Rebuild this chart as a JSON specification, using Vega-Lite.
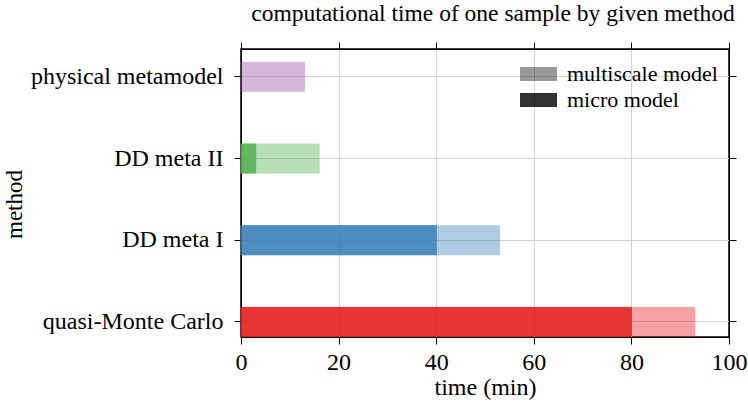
{
  "$schema": "https://vega.github.io/schema/vega-lite/v6.json",
  "autosize": "none",
  "width": 488,
  "height": 288,
  "padding": {"left": 241, "top": 49, "right": 19, "bottom": 66},
  "background": "white",
  "config": {
    "font": "Liberation Serif",
    "view": {"stroke": "black", "strokeWidth": 1.5},
    "axis": {
      "labelFont": "Liberation Serif",
      "titleFont": "Liberation Serif",
      "labelColor": "black",
      "titleColor": "black",
      "titleFontWeight": "normal",
      "domainColor": "black",
      "tickColor": "black",
      "tickSize": 7,
      "tickWidth": 1,
      "gridColor": "#d3d3d3",
      "gridWidth": 1,
      "labelLimit": 400
    },
    "legend": {
      "labelFont": "Liberation Serif",
      "labelColor": "black"
    },
    "title": {"font": "Liberation Serif", "fontWeight": "normal", "color": "black"}
  },
  "title": {"text": "computational time of one sample by given method", "fontSize": 23.5, "anchor": "middle", "offset": 16, "dx": 8},
  "data": {
    "values": [
      {"method": "physical metamodel", "model": "multiscale model", "time": 13},
      {"method": "DD meta II", "model": "multiscale model", "time": 16},
      {"method": "DD meta I", "model": "multiscale model", "time": 53},
      {"method": "quasi-Monte Carlo", "model": "multiscale model", "time": 93},
      {"method": "DD meta II", "model": "micro model", "time": 3},
      {"method": "DD meta I", "model": "micro model", "time": 40},
      {"method": "quasi-Monte Carlo", "model": "micro model", "time": 80}
    ]
  },
  "encoding": {
    "y": {
      "field": "method",
      "type": "nominal",
      "sort": ["physical metamodel", "DD meta II", "DD meta I", "quasi-Monte Carlo"],
      "scale": {"paddingInner": 0.645, "paddingOuter": 0.085, "align": 0.96}
    },
    "x": {
      "field": "time",
      "type": "quantitative",
      "stack": null,
      "scale": {"domain": [0, 100], "nice": false}
    },
    "color": {
      "field": "method",
      "type": "nominal",
      "scale": {
        "domain": ["physical metamodel", "DD meta II", "DD meta I", "quasi-Monte Carlo"],
        "range": ["#984ea3", "#4daf4a", "#377eb8", "#e41a1c"]
      },
      "legend": null
    },
    "stroke": {
      "field": "method",
      "type": "nominal",
      "scale": {
        "domain": ["physical metamodel", "DD meta II", "DD meta I", "quasi-Monte Carlo"],
        "range": ["#984ea3", "#4daf4a", "#377eb8", "#e41a1c"]
      },
      "legend": null
    },
    "opacity": {
      "field": "model",
      "type": "nominal",
      "scale": {"domain": ["multiscale model", "micro model"], "range": [0.4, 0.8]},
      "legend": {
        "title": null,
        "orient": "none",
        "legendX": 286.5,
        "legendY": 14,
        "symbolType": "M-1.85,-0.7H1.85V0.7H-1.85Z",
        "symbolSize": 400,
        "symbolFillColor": "black",
        "symbolStrokeWidth": 0,
        "labelFontSize": 22,
        "labelOffset": 17.5,
        "rowPadding": 4
      }
    }
  },
  "resolve": {"axis": {"x": "independent", "y": "independent"}},
  "layer": [
    {
      "transform": [{"filter": "datum.model === 'multiscale model'"}],
      "mark": {"type": "bar", "strokeWidth": 1},
      "encoding": {
        "x": {
          "field": "time", "type": "quantitative", "stack": null,
          "axis": {"orient": "bottom", "title": "time (min)", "values": [0, 20, 40, 60, 80, 100], "labelFontSize": 24, "titleFontSize": 24, "labelPadding": 6, "titlePadding": 1, "labelFlush": false, "grid": true}
        },
        "y": {
          "field": "method", "type": "nominal",
          "sort": ["physical metamodel", "DD meta II", "DD meta I", "quasi-Monte Carlo"],
          "axis": {"orient": "left", "title": "method", "labelFontSize": 24, "titleFontSize": 23, "labelPadding": 11, "titleX": -227, "titleY": 155, "titleBaseline": "middle", "titleAlign": "center", "titleAngle": -90, "grid": true}
        }
      }
    },
    {
      "transform": [{"filter": "datum.model === 'micro model'"}],
      "mark": {"type": "bar", "strokeWidth": 1},
      "encoding": {
        "x": {
          "field": "time", "type": "quantitative", "stack": null,
          "axis": {"orient": "top", "title": null, "labels": false, "grid": false, "values": [0, 20, 40, 60, 80, 100]}
        },
        "y": {
          "field": "method", "type": "nominal",
          "sort": ["physical metamodel", "DD meta II", "DD meta I", "quasi-Monte Carlo"],
          "axis": {"orient": "right", "title": null, "labels": false, "grid": false}
        }
      }
    }
  ]
}
